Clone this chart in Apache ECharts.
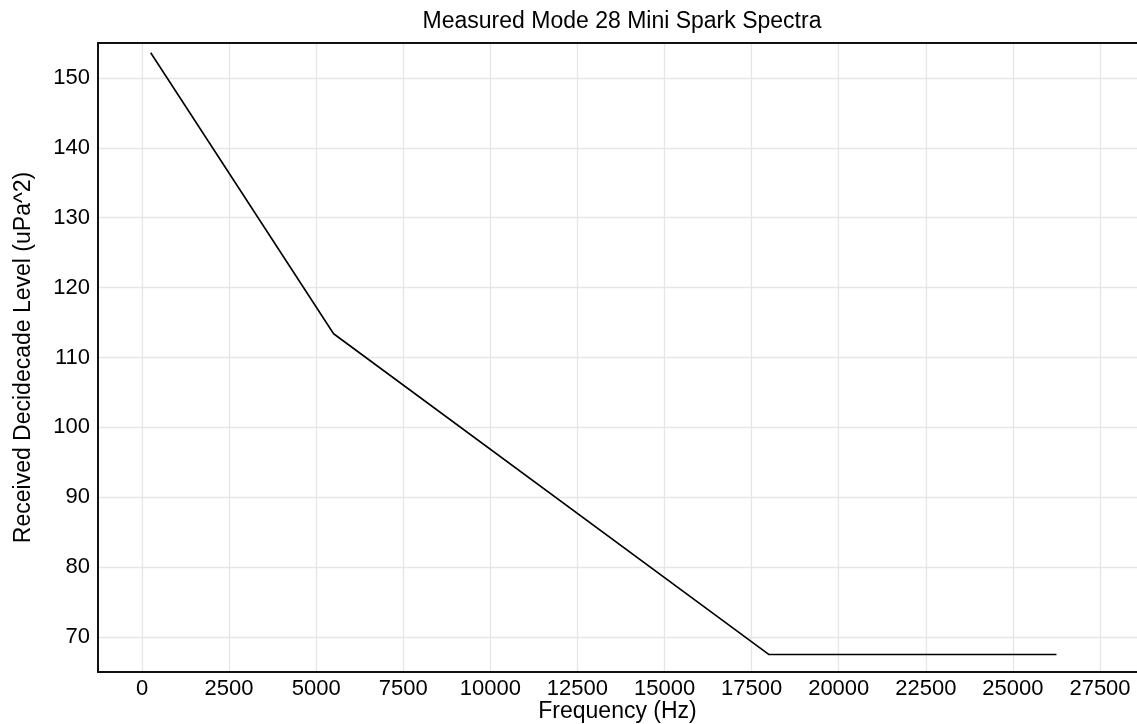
<!DOCTYPE html>
<html>
<head>
<meta charset="utf-8">
<script src="https://cdn.jsdelivr.net/npm/echarts@6/dist/echarts.min.js"></script>
<style>html,body{margin:0;padding:0;background:#fff}#c{width:1137px;height:724px}</style>
</head>
<body>
<div id="c"></div>
<script>
const titleText = 'Measured Mode 28 Mini Spark Spectra';
const xName = 'Frequency (Hz)';
const yName = 'Received Decidecade Level (uPa^2)';
const xTicks = [0, 2500, 5000, 7500, 10000, 12500, 15000, 17500, 20000, 22500, 25000, 27500];
const yTicks = [70, 80, 90, 100, 110, 120, 130, 140, 150];
const frequency = [250, 5500, 18000, 26250];
const level = [153.6, 113.4, 67.5, 67.5];

const chart = echarts.init(document.getElementById('c'), null, {renderer: 'canvas'});
const font = 'Liberation Sans, Arial, sans-serif';
const data = frequency.map((f, i) => [f, level[i]]);
const plain = v => String(v);
chart.setOption({
  animation: false,
  backgroundColor: '#fff',
  title: {
    text: titleText, left: 617, textAlign: 'center', top: 5,
    textStyle: {fontFamily: font, fontSize: 23, fontWeight: 'normal', color: '#000'}
  },
  grid: {left: 98, right: 0, top: 43, bottom: 52, containLabel: false, outerBoundsMode: 'none'},
  xAxis: [{
    type: 'value', min: -1263, max: 28562,
    name: xName, nameLocation: 'middle', nameGap: 28, nameMoveOverlap: false,
    nameTextStyle: {fontFamily: font, fontSize: 23, color: '#000'},
    axisLine: {show: true, onZero: false, lineStyle: {color: '#111', width: 2}},
    axisTick: {show: false, customValues: xTicks},
    axisLabel: {fontFamily: font, fontSize: 22, color: '#000', margin: 6, customValues: xTicks, formatter: plain},
    splitLine: {show: true, lineStyle: {color: '#e6e6e6', width: 1.3}}
  }, {
    type: 'value', position: 'top', min: -1263, max: 28562,
    axisLine: {show: true, onZero: false, lineStyle: {color: '#111', width: 2}},
    axisTick: {show: false}, axisLabel: {show: false}, splitLine: {show: false}
  }],
  yAxis: {
    type: 'value', min: 65, max: 155,
    name: yName, nameLocation: 'middle', nameGap: 63, nameRotate: 90, nameMoveOverlap: false,
    nameTextStyle: {fontFamily: font, fontSize: 23, color: '#000'},
    axisLine: {show: true, onZero: false, lineStyle: {color: '#111', width: 2}},
    axisTick: {show: false, customValues: yTicks},
    axisLabel: {fontFamily: font, fontSize: 22, color: '#000', margin: 8, customValues: yTicks, formatter: plain},
    splitLine: {show: true, lineStyle: {color: '#e6e6e6', width: 1.3}}
  },
  series: [{
    type: 'line', data: data, showSymbol: false, symbol: 'none',
    lineStyle: {color: '#000', width: 1.6}, silent: true
  }]
});
</script>
</body>
</html>
